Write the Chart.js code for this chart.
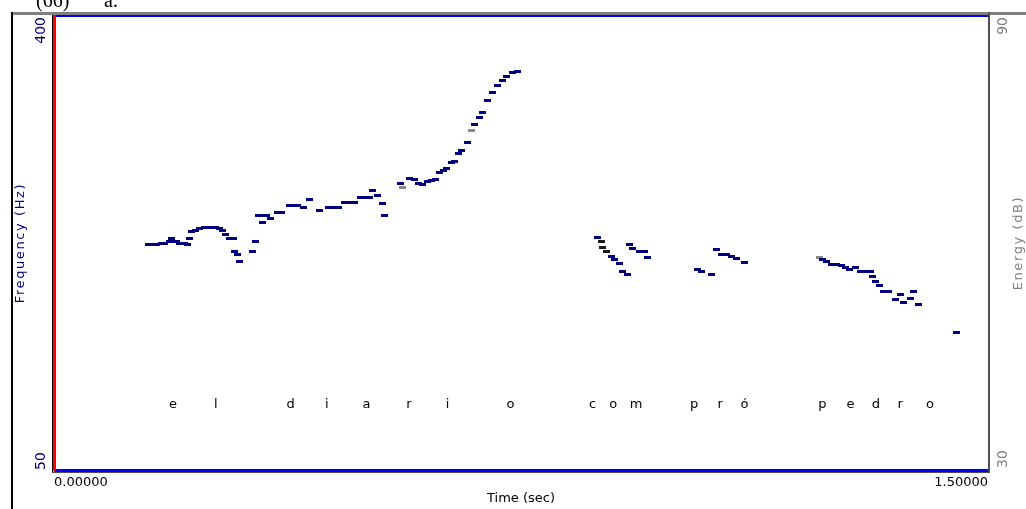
<!DOCTYPE html>
<html>
<head>
<meta charset="utf-8">
<script src="https://cdn.jsdelivr.net/npm/chart.js@4.4.1/dist/chart.umd.min.js"></script>
<style>
  html, body { margin: 0; padding: 0; background: #fff; }
  #wrap { position: relative; width: 1026px; height: 509px; }
</style>
</head>
<body>
<div id="wrap"><canvas id="pitchChart" width="1026" height="509"></canvas></div>
<script>
// pitch track (time in sec, frequency in Hz)
const pitchTime = [
  0.152, 0.159, 0.165, 0.172, 0.178, 0.185, 0.189, 0.196, 0.202, 0.209, 0.215, 0.217,
  0.221, 0.228, 0.234, 0.241, 0.247, 0.254, 0.260, 0.266, 0.271, 0.276, 0.282, 0.289, 0.290, 0.295, 0.298, 0.318, 0.323,
  0.329, 0.335, 0.342, 0.335, 0.348, 0.359, 0.366, 0.379, 0.385, 0.391, 0.400, 0.411, 0.427, 0.441, 0.449, 0.457,
  0.467, 0.475, 0.483, 0.493, 0.501, 0.507, 0.512, 0.520, 0.528, 0.531,
  0.557, 0.571, 0.579, 0.586, 0.592, 0.600, 0.606, 0.613, 0.619, 0.626, 0.631, 0.639, 0.643, 0.650, 0.655, 0.664,
  0.675, 0.683, 0.688, 0.696, 0.704, 0.712, 0.720, 0.727, 0.736, 0.744,
  0.873, 0.895, 0.900, 0.908, 0.913, 0.921,
  0.924, 0.929, 0.940, 0.948, 0.953,
  1.033, 1.040, 1.056, 1.064, 1.072, 1.080, 1.088, 1.096, 1.109,
  1.234, 1.240, 1.248, 1.256, 1.264, 1.271, 1.277, 1.287, 1.296, 1.304, 1.311, 1.314, 1.319, 1.325, 1.332, 1.340,
  1.351, 1.360, 1.365, 1.375, 1.381, 1.389, 1.449
];
const pitchHz = [
  223.5, 223.5, 224.2, 225.0, 225.0, 226.5, 228.1, 226.5, 225.0, 225.0, 223.5, 228.8,
  234.2, 235.0, 236.6, 237.3, 237.3, 237.3, 237.3, 236.6, 235.0, 231.2, 228.8, 228.8, 218.1, 215.8, 210.3, 218.1, 225.8,
  246.6, 246.6, 246.6, 241.2, 244.3, 248.9, 248.9, 254.3, 254.3, 254.3, 252.8, 259.0, 250.4, 252.8, 252.8, 252.8,
  256.6, 256.6, 256.6, 260.5, 260.5, 260.5, 265.9, 262.0, 255.8, 246.6,
  271.3, 275.1, 274.3, 271.3, 270.5, 272.8, 273.6, 274.3, 279.7, 281.3, 282.8, 287.4, 288.2, 294.4, 296.7, 302.9,
  316.7, 322.1, 326.0, 335.2, 341.4, 346.8, 350.7, 353.7, 356.8, 357.6,
  229.6, 214.2, 211.9, 208.8, 202.6, 200.3,
  223.5, 221.1, 218.1, 218.1, 213.4,
  204.2, 202.6, 200.3, 219.6, 215.8, 215.8, 214.2, 212.7, 209.6,
  211.9, 210.3, 208.0, 208.0, 207.3, 205.7, 204.2, 205.7, 202.6, 202.6, 202.6, 198.8, 194.9, 191.9, 187.2, 187.2,
  181.1, 184.9, 178.7, 181.8, 187.2, 177.2, 155.6
];
// a few samples drawn in grey / near black
const grayTime = [0.560, 0.671, 1.229];
const grayHz = [268.2, 312.1, 213.4];
const darkTime = [0.879, 0.881, 0.887];
const darkHz = [225.8, 221.9, 218.1];

// transcription letters under the track
const wordLetters = ['e', 'l', 'd', 'i', 'a', 'r', 'i', 'o', 'c', 'o', 'm', 'p', 'r', 'ó', 'p', 'e', 'd', 'r', 'o'];
const letterTime = [0.191, 0.260, 0.380, 0.438, 0.502, 0.570, 0.632, 0.733, 0.865, 0.898, 0.935,
  1.028, 1.070, 1.109, 1.234, 1.279, 1.320, 1.359, 1.407];
const letterHz = 100;

const timeTicks = [0, 1.5];
const freqTicks = [50, 400];
const energyTicks = [30, 90];

const FONT = '"DejaVu Sans", "Liberation Sans", sans-serif';

function dashStyle(color) {
  const c = document.createElement('canvas');
  c.width = 7;
  c.height = 3;
  const g = c.getContext('2d');
  g.fillStyle = color;
  g.fillRect(0, 0, 7, 3);
  return c;
}

function toPoints(ts, hz) {
  return ts.map((t, i) => ({ x: t, y: hz[i] }));
}

// rotated text, reading bottom to top
function vText(ctx, text, x, y, align, color, size, spacing) {
  ctx.save();
  ctx.translate(x, y);
  ctx.rotate(-Math.PI / 2);
  ctx.font = size + 'px ' + FONT;
  ctx.fillStyle = color;
  ctx.textAlign = align;
  ctx.textBaseline = 'alphabetic';
  ctx.letterSpacing = spacing || '0px';
  ctx.fillText(text, 0, 0);
  ctx.restore();
}

const framePlugin = {
  id: 'frame',
  afterDraw(chart) {
    const ctx = chart.ctx;
    const a = chart.chartArea;
    const xs = chart.scales.x;
    const ys = chart.scales.y;
    const es = chart.scales.y2;
    ctx.save();

    // caption fragment cut by the top edge
    ctx.fillStyle = '#000';
    ctx.font = '20px "Liberation Serif", serif';
    ctx.textAlign = 'left';
    ctx.textBaseline = 'alphabetic';
    ctx.fillText('(66)', 36, 7);
    ctx.fillText('a.', 104, 7);

    // window edges
    ctx.fillStyle = '#808080';
    ctx.fillRect(11, 12, 1015, 3);
    ctx.fillStyle = '#000';
    ctx.fillRect(11, 12, 2, 497);

    // plot frame
    ctx.fillStyle = '#0000ff';
    ctx.fillRect(a.left, 15, a.right - a.left, 2);
    ctx.fillRect(a.left, a.bottom, a.right - a.left, 3);
    ctx.fillStyle = '#4d4d4d';
    ctx.fillRect(a.left - 2, a.bottom + 3, a.right - a.left + 4, 1);
    ctx.fillRect(a.right, 12, 2, a.bottom - 12 + 4);
    ctx.fillStyle = '#000';
    ctx.fillRect(a.left - 2, 15, 1, a.bottom - 15 + 3);
    ctx.fillStyle = '#ff0000';
    ctx.fillRect(a.left - 1, 15, 3, a.bottom - 15 + 2);

    // left and right axis labels
    freqTicks.forEach(v => {
      const y = ys.getPixelForValue(v);
      vText(ctx, String(v), 45, v === ys.max ? y : y + 1, v === ys.max ? 'right' : 'left', '#000080', 14);
    });
    energyTicks.forEach(v => {
      const y = es.getPixelForValue(v);
      vText(ctx, String(v), 1007, v === es.max ? y : y - 1, v === es.max ? 'right' : 'left', '#808080', 14);
    });
    vText(ctx, 'Frequency (Hz)', 24, (a.top + a.bottom) / 2, 'center', '#000080', 13, '1.6px');
    vText(ctx, 'Energy (dB)', 1022, (a.top + a.bottom) / 2, 'center', '#808080', 13, '1.6px');

    // letters
    ctx.fillStyle = '#000';
    ctx.font = '13px ' + FONT;
    ctx.textAlign = 'center';
    ctx.textBaseline = 'middle';
    const ly = ys.getPixelForValue(letterHz);
    wordLetters.forEach((ch, i) => {
      ctx.fillText(ch, xs.getPixelForValue(letterTime[i]), ly);
    });

    ctx.restore();
  }
};

const canvas = document.getElementById('pitchChart');
const chart = new Chart(canvas.getContext('2d'), {
  type: 'scatter',
  data: {
    datasets: [
      { label: 'Pitch', data: toPoints(pitchTime, pitchHz), pointStyle: dashStyle('#000080'), pointRadius: 4, showLine: false },
      { label: 'Pitch (grey)', data: toPoints(grayTime, grayHz), pointStyle: dashStyle('#8a8a8a'), pointRadius: 4, showLine: false },
      { label: 'Pitch (dark)', data: toPoints(darkTime, darkHz), pointStyle: dashStyle('#1a1a1a'), pointRadius: 4, showLine: false }
    ]
  },
  options: {
    responsive: false,
    animation: false,
    layout: { padding: { top: 17, left: 0, right: 0, bottom: 0 } },
    plugins: {
      legend: { display: false },
      tooltip: { enabled: false }
    },
    scales: {
      x: {
        type: 'linear',
        min: 0,
        max: 1.5,
        grid: { display: false, drawTicks: false },
        border: { display: false },
        afterBuildTicks: s => { s.ticks = timeTicks.map(v => ({ value: v })); },
        afterFit: s => { s.height = 40; },
        ticks: {
          align: 'inner',
          maxRotation: 0,
          autoSkip: false,
          padding: 6,
          color: '#000',
          font: { family: FONT, size: 13 },
          callback: v => Number(v).toFixed(5)
        },
        title: {
          display: true,
          text: 'Time (sec)',
          color: '#000',
          font: { family: FONT, size: 13 },
          padding: { top: 0, bottom: 3 }
        }
      },
      y: {
        min: 50,
        max: 400,
        grid: { display: false },
        border: { display: false },
        ticks: { display: false },
        afterFit: s => { s.width = 54; }
      },
      y2: {
        position: 'right',
        min: 30,
        max: 90,
        grid: { display: false },
        border: { display: false },
        ticks: { display: false },
        afterFit: s => { s.width = 38; }
      }
    }
  },
  plugins: [framePlugin]
});
</script>
</body>
</html>
